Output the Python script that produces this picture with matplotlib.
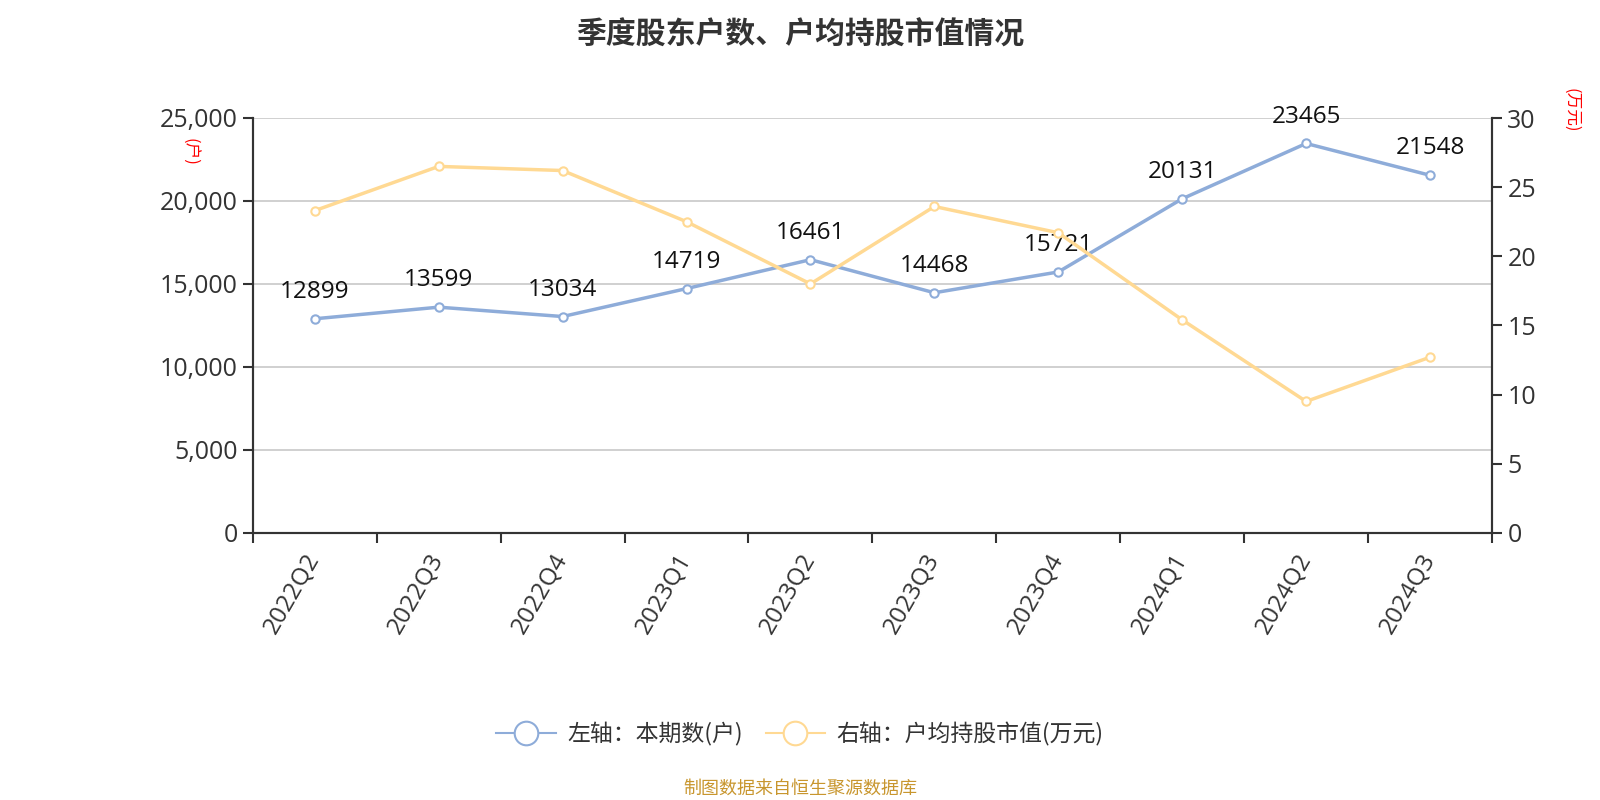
import numpy as np
import matplotlib
matplotlib.use('Agg')
import matplotlib.pyplot as plt
from matplotlib.ticker import FuncFormatter, FixedLocator
from matplotlib.lines import Line2D

plt.rcParams['font.family'] = ['Open Sans', 'Noto Sans CJK SC', 'DejaVu Sans']
cjk = ['Noto Sans CJK SC', 'DejaVu Sans']

# Data
quarters = ['2022Q2', '2022Q3', '2022Q4', '2023Q1', '2023Q2',
            '2023Q3', '2023Q4', '2024Q1', '2024Q2', '2024Q3']
holders = [12899, 13599, 13034, 14719, 16461, 14468, 15721, 20131, 23465, 21548]
avg_value = [23.3, 26.5, 26.2, 22.5, 18.0, 23.6, 21.7, 15.4, 9.5, 12.7]

blue = '#8EACD9'
orange = '#FFD993'
text_c = '#333333'

fig = plt.figure(figsize=(16, 8), dpi=100)
ax1 = fig.add_axes([0.158, 0.334, 0.7745, 0.5185])
ax2 = ax1.twinx()

x = np.arange(len(quarters))

ax1.plot(x, holders, color=blue, lw=2.5, marker='o', ms=6,
         mfc='white', mec=blue, mew=1.5, zorder=3)
ax2.plot(x, avg_value, color=orange, lw=2.5, marker='o', ms=6,
         mfc='white', mec=orange, mew=1.5, zorder=3)

for xi, v in zip(x, holders):
    ax1.text(xi, v + 900, str(v), ha='center', va='bottom', fontsize=17.5,
             color='#111111', zorder=5)

ax1.set_xlim(-0.5, len(quarters) - 0.5)
ax1.set_ylim(0, 25000)
ax2.set_ylim(0, 30)
ax1.set_yticks(np.arange(0, 25001, 5000))
ax2.set_yticks(np.arange(0, 31, 5))
ax1.yaxis.set_major_formatter(FuncFormatter(lambda v, p: f'{int(v):,}'))

ax1.grid(axis='y', color='#C8C8C8', lw=1.2)
ax1.set_axisbelow(True)

# x ticks: marks at category boundaries, labels at centres
ax1.set_xticks(x)
ax1.set_xticklabels(quarters, rotation=60, ha='right', va='center',
                    rotation_mode='anchor', fontsize=17.5, color=text_c)
ax1.tick_params(axis='x', which='major', length=0, pad=16)
ax1.xaxis.set_minor_locator(FixedLocator(np.arange(-0.5, len(quarters), 1)))
ax1.tick_params(axis='x', which='minor', length=7, width=1.5, color=text_c)

ax1.tick_params(axis='y', labelsize=18, labelcolor=text_c, length=7, width=1.5,
                color=text_c, pad=4)
ax2.tick_params(axis='y', labelsize=18, labelcolor=text_c, length=7, width=1.5,
                color=text_c, pad=4)

for ax in (ax1, ax2):
    ax.spines['top'].set_visible(False)
    for s in ('left', 'right', 'bottom'):
        ax.spines[s].set_color(text_c)
        ax.spines[s].set_linewidth(1.5)

# axis unit labels
fig.text(0.118, 0.81, '(户)', rotation=-90, color='red', fontsize=12,
         ha='center', va='center', family=cjk)
fig.text(0.982, 0.862, '(万元)', rotation=-90, color='red', fontsize=12,
         ha='center', va='center', family=cjk)

fig.suptitle('季度股东户数、户均持股市值情况', fontsize=21.5, fontweight='bold',
             color=text_c, y=0.975, family=cjk)

handles = [
    Line2D([], [], color=blue, lw=1.5, marker='o', ms=17, mfc='white', mec=blue, mew=1.5),
    Line2D([], [], color=orange, lw=1.5, marker='o', ms=17, mfc='white', mec=orange, mew=1.5),
]
fig.legend(handles, ['左轴：本期数(户)', '右轴：户均持股市值(万元)'],
           loc='center', bbox_to_anchor=(0.5, 0.082), ncol=2, frameon=False,
           prop={'family': cjk, 'size': 16.5}, handlelength=2.6,
           columnspacing=1.0, handletextpad=0.5, labelcolor=text_c)

fig.text(0.5, 0.014, '制图数据来自恒生聚源数据库', ha='center', va='center',
         fontsize=13, color='#C8962E', family=cjk)

fig.savefig('out.png', dpi=100)
